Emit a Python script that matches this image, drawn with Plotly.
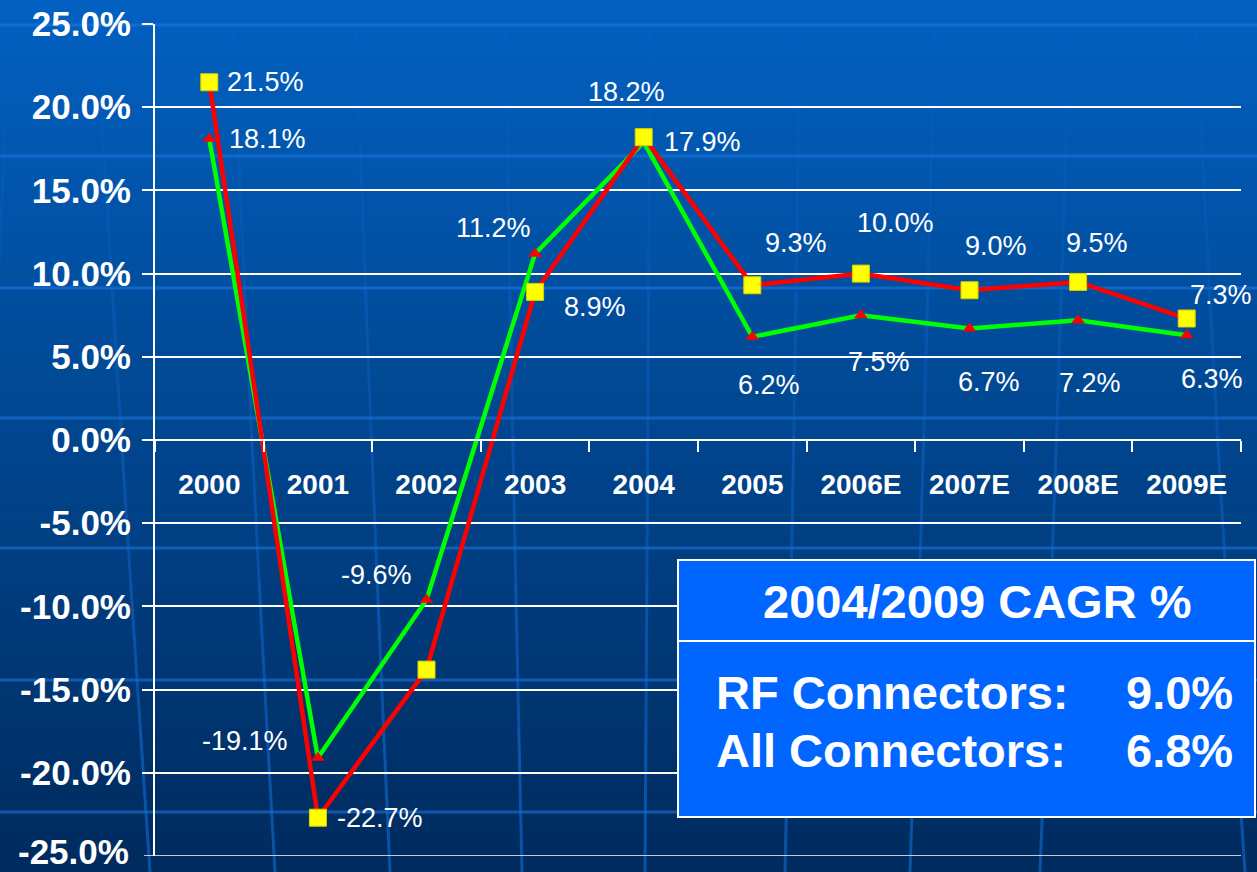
import plotly.graph_objects as go

# ---- data ----
years = ["2000", "2001", "2002", "2003", "2004", "2005", "2006E", "2007E", "2008E", "2009E"]
rf_growth = [21.5, -22.7, -13.8, 8.9, 18.2, 9.3, 10.0, 9.0, 9.5, 7.3]
rf_labels = ["21.5%", "-22.7%", None, "8.9%", "18.2%", "9.3%", "10.0%", "9.0%", "9.5%", "7.3%"]
all_growth = [18.1, -19.1, -9.6, 11.2, 17.9, 6.2, 7.5, 6.7, 7.2, 6.3]
all_labels = ["18.1%", "-19.1%", "-9.6%", "11.2%", "17.9%", "6.2%", "7.5%", "6.7%", "7.2%", "6.3%"]
y_ticks = [25, 20, 15, 10, 5, 0, -5, -10, -15, -20, -25]
y_ticktext = ["25.0%", "20.0%", "15.0%", "10.0%", "5.0%", "0.0%", "-5.0%", "-10.0%", "-15.0%", "-20.0%", "-25.0%"]
cagr_title = "2004/2009 CAGR %"
cagr_names = ["RF Connectors:", "All Connectors:"]
cagr_values = ["9.0%", "6.8%"]

# ---- label offsets (layout) ----
rf_off = [(16, 0, "left"), (17, 0, "left"), (0, 0, "center"), (60, -15, "center"), (-17, 45, "center"),
          (44, 42, "center"), (35, 51, "center"), (26, 44, "center"), (19, 39, "center"), (34, 24, "center")]
all_off = [(18, 0, "left"), (-28, 17, "right"), (-13, 25, "right"), (-2, 26, "right"), (18, 0, "left"),
           (17, -48, "center"), (18, -47, "center"), (19, -53, "center"), (12, -63, "center"), (25, -44, "center")]

FONT = "Arial, 'Liberation Sans', sans-serif"
W, H = 1257, 872
ML, MR, MT, MB = 155, 16, 24, 16
PW, PH = W - ML - MR, H - MT - MB


def px_x(px):
    return (px - ML) / PW


def px_y(py):
    return (H - MB - py) / PH


fig = go.Figure()

fig.add_trace(go.Scatter(
    x=years, y=all_growth, mode="lines+markers", name="All Connectors",
    line=dict(color="#00FF00", width=4.5),
    marker=dict(symbol="triangle-up", size=12, color="#FF0000"),
    showlegend=False, hoverinfo="skip"))
fig.add_trace(go.Scatter(
    x=years, y=rf_growth, mode="lines+markers", name="RF Connectors",
    line=dict(color="#FF0000", width=4.5),
    marker=dict(symbol="square", size=17, color="#FFFF00", line=dict(color="#D8D000", width=1)),
    showlegend=False, hoverinfo="skip"))

shapes = []
# background gradient
n = 60
top = (2, 96, 192)
bot = (0, 43, 94)
for i in range(n):
    t = i / (n - 1)
    c = tuple(int(round(top[k] + (bot[k] - top[k]) * t)) for k in range(3))
    shapes.append(dict(type="rect", xref="paper", yref="paper", layer="below",
                       x0=px_x(-5), x1=px_x(W + 5),
                       y0=px_y(H * (i + 1) / n + 1), y1=px_y(H * i / n),
                       fillcolor="rgb(%d,%d,%d)" % c, line=dict(width=0)))
# faint globe latitude lines
for py in [25, 156, 288, 418, 548, 680, 812]:
    shapes.append(dict(type="line", xref="paper", yref="paper", layer="below",
                       x0=px_x(0), x1=px_x(W), y0=px_y(py), y1=px_y(py),
                       line=dict(color="rgba(30,120,230,0.55)", width=3)))
# faint globe longitude curves (fainter at top, stronger at bottom)
curves = [(10, -5, -40), (95, 120, 150), (232, 250, 275), (355, 370, 390), (505, 512, 522),
          (650, 648, 645), (800, 795, 785), (935, 925, 910), (1070, 1058, 1040), (1195, 1215, 1245)]
nseg = 6
for (xa, xb, xc) in curves:
    pts = []
    for s in range(nseg + 1):
        t = s / nseg
        x = (1 - t) ** 2 * xa + 2 * (1 - t) * t * xb + t ** 2 * xc
        y = t * H
        pts.append((x, y))
    for s in range(nseg):
        a = 0.12 + 0.45 * s / (nseg - 1)
        (x0, y0), (x1, y1) = pts[s], pts[s + 1]
        shapes.append(dict(type="line", xref="paper", yref="paper", layer="below",
                           x0=px_x(x0), x1=px_x(x1), y0=px_y(y0), y1=px_y(y1),
                           line=dict(color="rgba(20,110,220,%.2f)" % a, width=3)))

# bottom gridline (at the axis range edge)
shapes.append(dict(type="line", xref="paper", yref="y", layer="below",
                   x0=0, x1=1, y0=y_ticks[-1], y1=y_ticks[-1],
                   line=dict(color="white", width=1.5)))
shapes.append(dict(type="line", xref="paper", yref="y", layer="above",
                   x0=px_x(ML - 11), x1=0, y0=y_ticks[-1], y1=y_ticks[-1],
                   line=dict(color="white", width=1.5)))

# CAGR box
bx0, bx1, by0, by1, bdiv = 678, 1255, 560, 817, 641
shapes.append(dict(type="rect", xref="paper", yref="paper", layer="above",
                   x0=px_x(bx0), x1=px_x(bx1), y0=px_y(by1), y1=px_y(by0),
                   fillcolor="#0066FF", line=dict(color="white", width=2)))
shapes.append(dict(type="line", xref="paper", yref="paper", layer="above",
                   x0=px_x(bx0), x1=px_x(bx1), y0=px_y(bdiv), y1=px_y(bdiv),
                   line=dict(color="white", width=2)))

annotations = []
for i, (v, lab) in enumerate(zip(rf_growth, rf_labels)):
    if lab is None:
        continue
    dx, dy, xa = rf_off[i]
    annotations.append(dict(x=i, y=v, xref="x", yref="y", text=lab, showarrow=False,
                            xanchor=xa, yanchor="middle", xshift=dx, yshift=dy,
                            font=dict(family=FONT, size=27, color="white")))
for i, (v, lab) in enumerate(zip(all_growth, all_labels)):
    dx, dy, xa = all_off[i]
    annotations.append(dict(x=i, y=v, xref="x", yref="y", text=lab, showarrow=False,
                            xanchor=xa, yanchor="middle", xshift=dx, yshift=dy,
                            font=dict(family=FONT, size=27, color="white")))

# bottom y tick label (at the axis range edge)
annotations.append(dict(x=0, y=y_ticks[-1], xref="paper", yref="y", text=y_ticktext[-1],
                        showarrow=False, xanchor="right", yanchor="middle", xshift=-24, yshift=5,
                        font=dict(family=FONT, size=35, color="white", weight="bold")))

annotations.append(dict(x=px_x(977), y=px_y(601), xref="paper", yref="paper", text=cagr_title,
                        showarrow=False, xanchor="center", yanchor="middle",
                        font=dict(family=FONT, size=47, color="white", weight="bold")))
for k, py in enumerate([692, 750]):
    annotations.append(dict(x=px_x(714), y=px_y(py), xref="paper", yref="paper", text=cagr_names[k],
                            showarrow=False, xanchor="left", yanchor="middle",
                            font=dict(family=FONT, size=47, color="white", weight="bold")))
    annotations.append(dict(x=px_x(1235), y=px_y(py), xref="paper", yref="paper", text=cagr_values[k],
                            showarrow=False, xanchor="right", yanchor="middle",
                            font=dict(family=FONT, size=47, color="white", weight="bold")))

fig.update_layout(
    width=W, height=H,
    margin=dict(l=ML, r=MR, t=MT, b=MB, pad=0, autoexpand=False),
    paper_bgcolor="#00306A", plot_bgcolor="rgba(0,0,0,0)",
    shapes=shapes, annotations=annotations,
    xaxis=dict(type="category", categoryorder="array", categoryarray=years,
               anchor="free", position=0.5, showgrid=False, zeroline=False,
               showline=True, linecolor="white", linewidth=2, automargin=False,
               ticks="outside", tickson="boundaries", ticklen=11, tickcolor="white", tickwidth=2,
               tickfont=dict(family=FONT, size=28, color="white", weight="bold"),
               ticklabelstandoff=19, range=[-0.5, 9.5]),
    yaxis=dict(range=[-25, 25], tickvals=y_ticks[:-1], ticktext=y_ticktext[:-1], automargin=False,
               showgrid=True, gridcolor="white", gridwidth=1.5,
               zeroline=True, zerolinecolor="white", zerolinewidth=2,
               showline=True, linecolor="white", linewidth=2,
               ticks="outside", ticklen=11, tickcolor="white", tickwidth=1.5,
               tickfont=dict(family=FONT, size=35, color="white", weight="bold"),
               ticklabelstandoff=4),
)

fig.write_html("out.html", config={"displayModeBar": False},
               post_script="document.body.style.margin='0';document.body.style.overflow='hidden';")
